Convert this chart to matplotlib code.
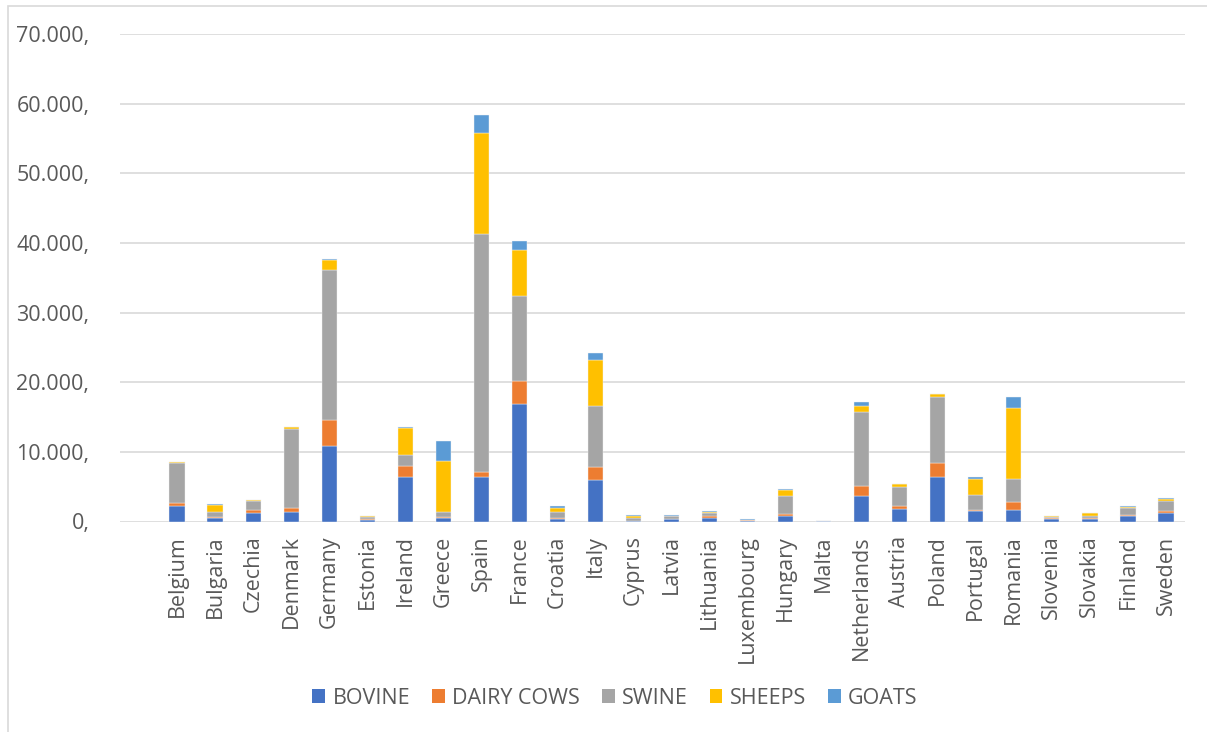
import numpy as np
import matplotlib.pyplot as plt
from matplotlib.patches import Patch, Rectangle

plt.rcParams['font.family'] = ['Open Sans', 'DejaVu Sans']

# Cabezas de ganado por país (miles)
countries = ['Belgium', 'Bulgaria', 'Czechia', 'Denmark', 'Germany', 'Estonia',
             'Ireland', 'Greece', 'Spain', 'France', 'Croatia', 'Italy', 'Cyprus',
             'Latvia', 'Lithuania', 'Luxembourg', 'Hungary', 'Malta', 'Netherlands',
             'Austria', 'Poland', 'Portugal', 'Romania', 'Slovenia', 'Slovakia',
             'Finland', 'Sweden']

bovine = [2200, 470, 1290, 1330, 10820, 250, 6350, 470, 6330, 16880, 380, 5940, 60,
          290, 500, 140, 760, 15, 3620, 1760, 6330, 1470, 1710, 290, 290, 760, 1290]
dairy_cows = [500, 240, 330, 620, 3820, 90, 1580, 130, 820, 3260, 150, 1870, 35,
              140, 260, 50, 280, 6, 1520, 530, 2000, 240, 1100, 180, 180, 140, 280]
swine = [5700, 620, 1280, 11380, 21420, 300, 1560, 730, 34190, 12230, 810, 8830, 350,
         330, 480, 85, 2630, 40, 10620, 2610, 9570, 2150, 3290, 150, 340, 1000, 1330]
sheeps = [150, 1050, 200, 200, 1530, 80, 3960, 7340, 14490, 6620, 670, 6570, 300,
          90, 180, 10, 860, 12, 810, 430, 340, 2280, 10230, 190, 380, 240, 390]
goats = [50, 200, 40, 40, 140, 10, 140, 2900, 2490, 1340, 150, 1010, 200,
         20, 90, 5, 90, 5, 570, 100, 90, 290, 1480, 40, 60, 50, 130]

series = [
    ('BOVINE', bovine, '#4472C4'),
    ('DAIRY COWS', dairy_cows, '#ED7D31'),
    ('SWINE', swine, '#A5A5A5'),
    ('SHEEPS', sheeps, '#FFC000'),
    ('GOATS', goats, '#5B9BD5'),
]

TEXT = '#595959'
GRID = '#D9D9D9'

fig = plt.figure(figsize=(12.07, 7.32), dpi=100)
ax = fig.add_axes([120 / 1207, 1 - 521.5 / 732, 1065 / 1207, 487.5 / 732])

# primera posición vacía, como en la hoja original
x = np.arange(1, len(countries) + 1)
bottom = np.zeros(len(countries))
for name, vals, color in series:
    vals = np.asarray(vals, dtype=float)
    ax.bar(x, vals, width=0.4, bottom=bottom, color=color,
           edgecolor='#F2F2F2', linewidth=0.3, label=name, zorder=3)
    bottom += vals

ax.set_xlim(-0.5, len(countries) + 0.5)
ax.set_ylim(0, 70000)
yt = np.arange(0, 70001, 10000)
ax.set_yticks(yt)
ax.set_yticklabels([f'{v:,.0f}'.replace(',', '.') + ',' for v in yt])
ax.set_xticks(x)
ax.set_xticklabels(countries, rotation=90, va='top', ha='center')

ax.tick_params(axis='y', length=0, pad=22, labelsize=15.5, labelcolor=TEXT)
ax.tick_params(axis='x', length=0, pad=10, labelsize=15.5, labelcolor=TEXT)
ax.grid(axis='y', color=GRID, linewidth=1.2, zorder=0)
for s in ax.spines.values():
    s.set_visible(False)

handles = [Patch(facecolor=c, label=n) for n, _, c in series]
fig.legend(handles=handles, loc='center', bbox_to_anchor=(615 / 1207, 1 - 698 / 732),
           ncol=5, frameon=False, fontsize=15.5, labelcolor=TEXT,
           handlelength=0.6, handleheight=0.6, handletextpad=0.35, columnspacing=1.0)

# marco del área del gráfico
fig.patches.append(Rectangle((7.5 / 1207, -0.1), 1.2, 1.1 - 5.5 / 732,
                             transform=fig.transFigure, fill=False,
                             edgecolor=GRID, linewidth=1.2))

fig.savefig('out.png', dpi=100)
